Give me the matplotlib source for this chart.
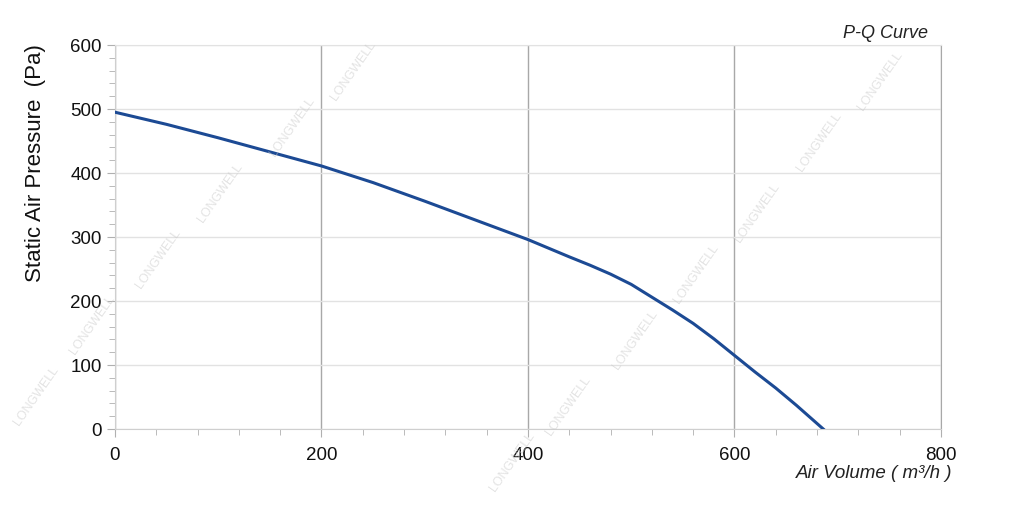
import matplotlib
matplotlib.use("Agg")
import matplotlib.pyplot as plt
from matplotlib.ticker import MultipleLocator

plt.rcParams['font.family'] = ['Liberation Sans', 'DejaVu Sans']

# P-Q curve
air_volume = [0, 50, 100, 150, 200, 250, 300, 350, 400, 440, 460, 480, 500, 520, 540, 560, 580, 600, 620, 640, 660, 686]
pressure = [495, 476, 455, 433, 411, 385, 356, 326, 296, 269, 256, 242, 226, 206, 186, 165, 141, 115, 89, 64, 37, 0]

x_ticks = [0, 200, 400, 600, 800]
y_ticks = [0, 100, 200, 300, 400, 500, 600]

# watermark positions (figure fractions)
marks = [(0.035, 0.22), (0.09, 0.36), (0.155, 0.49), (0.215, 0.62), (0.285, 0.75), (0.345, 0.86),
         (0.5, 0.09), (0.555, 0.2), (0.62, 0.33), (0.68, 0.46), (0.74, 0.58), (0.8, 0.72), (0.86, 0.84)]

fig = plt.figure(figsize=(10.24, 5.08), dpi=100)
ax = fig.add_axes([0.1123, 0.1555, 0.8066, 0.7559])

for mx, my in marks:
    fig.text(mx, my, "LONGWELL", rotation=55, fontsize=9, color='#c8c8c8', alpha=0.5,
             ha='center', va='center', zorder=0)

ax.plot(air_volume, pressure, color='#1c4a94', lw=2.2, zorder=5, solid_joinstyle='round')

ax.set_xlim(0, 800)
ax.set_ylim(0, 600)
ax.set_xticks(x_ticks)
ax.set_yticks(y_ticks)
ax.xaxis.set_minor_locator(MultipleLocator(40))
ax.yaxis.set_minor_locator(MultipleLocator(20))

ax.grid(axis='y', which='major', color='#e2e2e2', lw=1.0)
ax.grid(axis='x', which='major', color='#a8a8a8', lw=1.0)
ax.set_axisbelow(True)

for s in ['left', 'bottom']:
    ax.spines[s].set_color('#cfcfcf')
ax.spines['top'].set_color('#e2e2e2')
ax.spines['right'].set_color('#a8a8a8')

ax.tick_params(which='both', direction='out', colors='#b0b0b0', labelcolor='#111111')
ax.tick_params(which='major', length=6, labelsize=13.5)
ax.tick_params(which='minor', length=4)
ax.tick_params(axis='x', pad=7)

ax.set_ylabel("Static Air Pressure  (Pa)", fontsize=16, color='#111111')
ax.yaxis.set_label_coords(-0.084, 0.693)
fig.text(0.906, 0.935, "P-Q Curve", fontsize=13, style='italic', ha='right', va='center', color='#222222')
fig.text(0.93, 0.068, "Air Volume ( m\u00b3/h )", fontsize=13.5, style='italic', ha='right', va='center',
         color='#222222')

fig.savefig("out.png", dpi=100, facecolor='white')
